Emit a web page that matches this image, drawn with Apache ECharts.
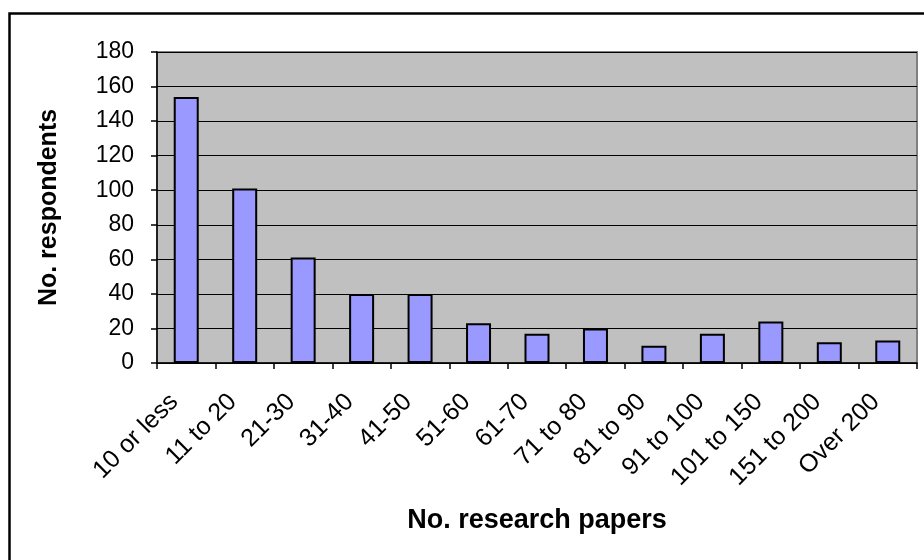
<!DOCTYPE html>
<html>
<head>
<meta charset="utf-8">
<script src="https://cdn.jsdelivr.net/npm/echarts@6/dist/echarts.min.js"></script>
<style>
html,body{margin:0;padding:0;background:#fff;}
#chart{width:924px;height:560px;}
</style>
</head>
<body>
<div id="chart"></div>
<script>
const categories = ['10 or less','11 to 20','21-30','31-40','41-50','51-60','61-70','71 to 80','81 to 90','91 to 100','101 to 150','151 to 200','Over 200'];
const respondents = [154, 101, 61, 40, 40, 23, 17, 20, 10, 17, 24, 12, 13];
const yTicks = [0, 20, 40, 60, 80, 100, 120, 140, 160, 180];
const xTitle = 'No. research papers';
const yTitle = 'No. respondents';

const FONT = '"Liberation Sans", Arial, sans-serif';
const chart = echarts.init(document.getElementById('chart'), null, {renderer: 'canvas'});
chart.setOption({
  animation: false,
  backgroundColor: '#ffffff',
  graphic: [{
    type: 'rect', left: 7, top: 11, z: 100,
    shape: {x: 0, y: 0, width: 1000, height: 1000},
    style: {fill: 'none', stroke: '#000', lineWidth: 2.5}
  }],
  grid: {
    left: 157, top: 52, right: 7, bottom: 197,
    show: true, backgroundColor: '#C0C0C0', borderColor: '#808080', borderWidth: 2
  },
  xAxis: {
    type: 'category',
    data: categories,
    boundaryGap: true,
    name: xTitle,
    nameLocation: 'middle',
    nameGap: 144,
    nameTextStyle: {fontFamily: FONT, fontSize: 27, fontWeight: 'bold', color: '#000'},
    axisLine: {lineStyle: {color: '#000', width: 1.5}},
    axisTick: {show: true, length: 6, alignWithLabel: false, lineStyle: {color: '#000', width: 1.5}},
    axisLabel: {rotate: 45, margin: 23, padding: [0, 17, 0, 0], interval: 0, fontFamily: FONT, fontSize: 25, color: '#000'},
    splitLine: {show: false}
  },
  yAxis: {
    type: 'value',
    min: yTicks[0], max: yTicks[yTicks.length - 1], interval: yTicks[1] - yTicks[0],
    name: yTitle,
    nameLocation: 'middle',
    nameGap: 95,
    nameRotate: 90,
    nameTextStyle: {fontFamily: FONT, fontSize: 25, fontWeight: 'bold', color: '#000'},
    axisLine: {show: true, lineStyle: {color: '#000', width: 1.5}},
    axisTick: {show: true, length: 6, lineStyle: {color: '#000', width: 1.5}},
    axisLabel: {margin: 23, fontFamily: FONT, fontSize: 23, color: '#000'},
    splitLine: {show: true, lineStyle: {color: '#000', width: 1}}
  },
  series: [{
    type: 'bar',
    data: respondents,
    barWidth: 25,
    itemStyle: {color: '#9999FF', borderColor: '#000', borderWidth: 2}
  }]
});
</script>
</body>
</html>
